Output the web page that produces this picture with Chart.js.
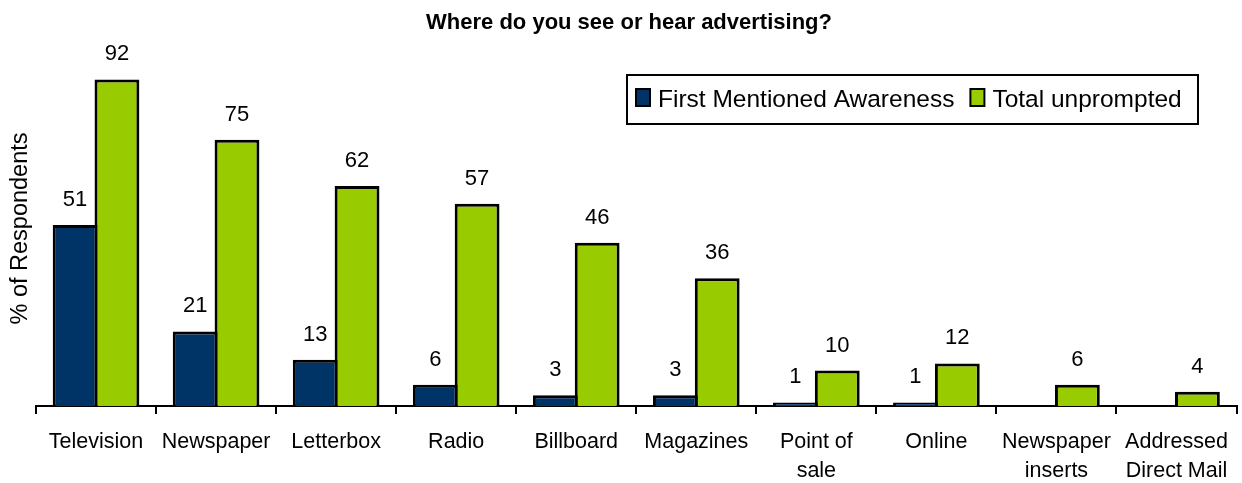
<!DOCTYPE html>
<html>
<head>
<meta charset="utf-8">
<script src="https://cdn.jsdelivr.net/npm/chart.js@4/dist/chart.umd.min.js"></script>
<style>
  html, body { margin: 0; padding: 0; background: #ffffff; }
  #wrap { position: relative; width: 1242px; height: 483px; }
</style>
</head>
<body>
<div id="wrap"><canvas id="c" width="1242" height="483"></canvas></div>
<script>
const chartTitle = "Where do you see or hear advertising?";
const yAxisTitle = "% of Respondents";
const categories = [
  "Television", "Newspaper", "Letterbox", "Radio", "Billboard", "Magazines",
  ["Point of", "sale"], "Online", ["Newspaper", "inserts"], ["Addressed", "Direct Mail"]
];
const seriesNames = ["First Mentioned Awareness", "Total unprompted"];
const firstMentioned = [51, 21, 13, 6, 3, 3, 1, 1, null, null];
const totalUnprompted = [92, 75, 62, 57, 46, 36, 10, 12, 6, 4];
const yMin = 0;
const yMax = 100;

const FONT = "'Liberation Sans', Arial, Helvetica, sans-serif";
const colors = ["#003366", "#99CC00"];

const valueLabels = {
  id: "valueLabels",
  afterDatasetsDraw(chart) {
    const ctx = chart.ctx;
    ctx.save();
    ctx.font = "22px " + FONT;
    ctx.fillStyle = "#000";
    ctx.textAlign = "center";
    ctx.textBaseline = "alphabetic";
    chart.data.datasets.forEach((ds, di) => {
      const meta = chart.getDatasetMeta(di);
      meta.data.forEach((bar, i) => {
        const v = ds.data[i];
        if (v === null || v === undefined) return;
        ctx.fillText(String(v), bar.x, bar.y - 19);
      });
    });
    ctx.restore();
  }
};

const extras = {
  id: "extras",
  afterDraw(chart) {
    const ctx = chart.ctx;
    const ca = chart.chartArea;
    ctx.save();
    // y axis title
    ctx.font = "23.5px " + FONT;
    ctx.fillStyle = "#000";
    ctx.textAlign = "center";
    ctx.textBaseline = "alphabetic";
    ctx.translate(27, (ca.top + ca.bottom) / 2);
    ctx.rotate(-Math.PI / 2);
    ctx.fillText(yAxisTitle, 0, 0);
    ctx.restore();

    // legend box
    ctx.save();
    const bx = 627, by = 75, bw = 571, bh = 49;
    ctx.fillStyle = "#fff";
    ctx.fillRect(bx, by, bw, bh);
    ctx.lineWidth = 2;
    ctx.strokeStyle = "#000";
    ctx.strokeRect(bx, by, bw, bh);
    ctx.font = "24.5px " + FONT;
    ctx.textBaseline = "alphabetic";
    ctx.textAlign = "left";
    let x = 636;
    seriesNames.forEach((name, i) => {
      ctx.fillStyle = colors[i];
      ctx.fillRect(x, 89, 14, 17);
      ctx.lineWidth = 2;
      ctx.strokeStyle = "#000";
      ctx.strokeRect(x, 89, 14, 17);
      ctx.fillStyle = "#000";
      ctx.fillText(name, x + 22, 107);
      x = x + 22 + ctx.measureText(name).width + 16;
    });
    ctx.restore();
  }
};

new Chart(document.getElementById("c"), {
  type: "bar",
  data: {
    labels: categories,
    datasets: [
      {
        label: seriesNames[0],
        data: firstMentioned,
        backgroundColor: colors[0],
        borderColor: "#000",
        borderWidth: 3,
        borderSkipped: "bottom",
        inflateAmount: 0,
        categoryPercentage: 0.697,
        barPercentage: 1.0715
      },
      {
        label: seriesNames[1],
        data: totalUnprompted,
        backgroundColor: colors[1],
        borderColor: "#000",
        borderWidth: 3,
        borderSkipped: "bottom",
        inflateAmount: 0,
        categoryPercentage: 0.697,
        barPercentage: 1.0715
      }
    ]
  },
  options: {
    responsive: false,
    animation: false,
    devicePixelRatio: 1,
    layout: { padding: { left: 18, right: 2, top: 0, bottom: 0 } },
    plugins: {
      legend: { display: false },
      tooltip: { enabled: false },
      title: {
        display: true,
        text: chartTitle,
        color: "#000",
        font: { family: FONT, size: 22, weight: "bold", lineHeight: 1.2 },
        padding: { top: 9.5, bottom: 15.1 }
      }
    },
    scales: {
      x: {
        offset: true,
        grid: {
          display: true,
          drawOnChartArea: false,
          drawTicks: true,
          tickLength: 8,
          color: "#000",
          lineWidth: 2,
          offset: true
        },
        border: { display: true, color: "#000", width: 2 },
        ticks: {
          color: "#000",
          font: { family: FONT, size: 21.5, lineHeight: 1.35 },
          padding: 14,
          maxRotation: 0,
          minRotation: 0,
          autoSkip: false
        },
        afterFit(scale) { scale.height = 77; }
      },
      y: {
        min: yMin,
        max: yMax,
        display: true,
        grid: { display: false },
        border: { display: false },
        ticks: { display: false },
        afterFit(scale) { scale.width = 18; }
      }
    }
  },
  plugins: [valueLabels, extras]
});
</script>
</body>
</html>
